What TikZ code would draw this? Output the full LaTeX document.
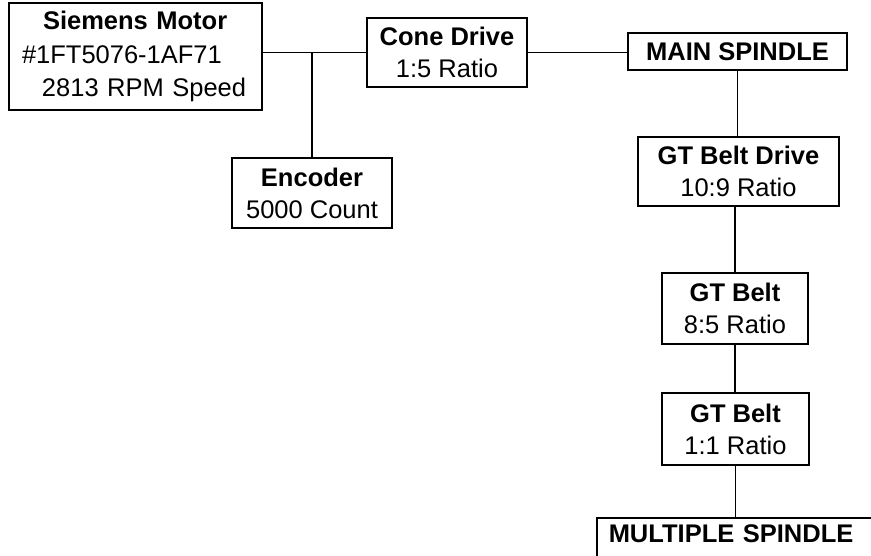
\documentclass[tikz,border=0pt]{standalone}
\usepackage{fontspec}
\setmainfont{Liberation Sans}

\begin{document}
\begin{tikzpicture}[x=1pt,y=-1pt,
    part/.style={draw, line width=1.5pt, align=center, inner sep=0pt,
                 font=\fontsize{25.5}{32}\selectfont},
    link/.style={line width=1.5pt}]
            \useasboundingbox (0,0) rectangle (871,556);
            % motor side
            \node[part, minimum width=253pt, minimum height=107pt, text width=227pt, align=left,
                  font=\fontsize{25.5}{33.5}\selectfont] (motor) at (135.5,56.5)
                  {\hspace*{21pt}\textbf{Siemens Motor}\\\#1FT5076-1AF71\\\hspace*{20pt}2813 RPM Speed};
            \node[part, minimum width=160pt, minimum height=69pt] (cone) at (447,52.5) {\textbf{Cone Drive}\\1:5 Ratio};
            \node[part, minimum width=160pt, minimum height=70pt] (encoder) at (312,193) {\textbf{Encoder}\\5000 Count};
            % spindle chain
            \node[part, minimum width=219pt, minimum height=37pt] (main) at (737.5,51.5) {\textbf{MAIN SPINDLE}};
            \node[part, minimum width=201pt, minimum height=69pt] (gtdrive) at (738.5,171.5) {\textbf{GT Belt Drive}\\10:9 Ratio};
            \node[part, minimum width=146pt, minimum height=71pt] (belta) at (735,308.5) {\textbf{GT Belt}\\8:5 Ratio};
            \node[part, minimum width=147pt, minimum height=72pt] (beltb) at (735.5,429) {\textbf{GT Belt}\\1:1 Ratio};
            \node[part, anchor=north west, align=left, text width=263pt, inner xsep=12pt, inner ysep=2pt,
                  text height=23pt, text depth=40pt] (multi) at (596,517) {\textbf{MULTIPLE SPINDLE}};
            % connections
            \coordinate (tap) at (encoder.north |- cone.west);
            \draw[link] (motor.east |- cone.west) -- (cone.west);
            \draw[link] (tap) -- (encoder.north);
            \draw[link] (cone.east) -- (cone.east -| main.west);
            \draw[link] (main.south) -- (main.south |- gtdrive.north);
            \draw[link] (belta.north |- gtdrive.south) -- (belta.north);
            \draw[link] (belta.south) -- (belta.south |- beltb.north);
            \draw[link] (beltb.south) -- (beltb.south |- multi.north);
        \end{tikzpicture}
\end{document}
